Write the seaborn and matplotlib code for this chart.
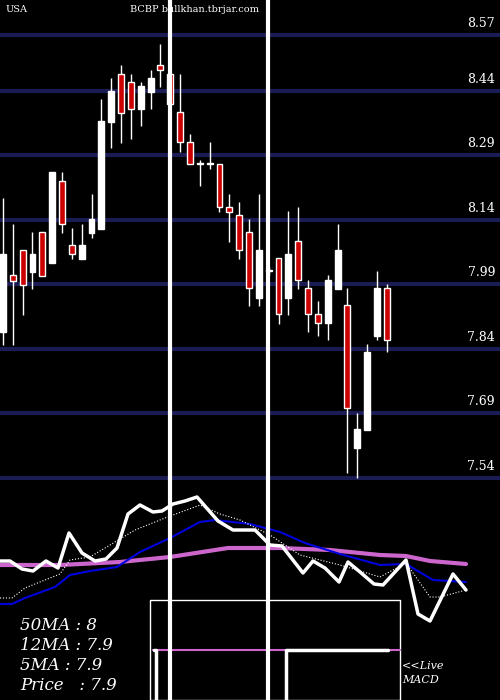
import matplotlib
matplotlib.use("Agg")
import matplotlib.pyplot as plt
import seaborn as sns
import numpy as np

sns.set_theme(style="dark")
plt.rcParams['font.family'] = ['DejaVu Serif']

opens  = [7.879,8.012,8.070,8.019,8.112,8.040,8.230,8.082,8.049,8.110,8.119,8.368,8.479,8.461,8.398,8.437,8.500,8.479,8.391,8.321,8.271,8.271,8.270,8.170,8.151,8.112,7.958,8.022,8.051,7.958,8.091,7.982,7.921,7.900,7.979,7.942,7.610,7.651,7.870,7.982]
highs  = [8.191,8.130,8.070,8.112,8.112,8.251,8.251,8.121,8.130,8.200,8.421,8.470,8.500,8.479,8.461,8.489,8.549,8.570,8.479,8.340,8.279,8.321,8.270,8.200,8.182,8.142,8.200,8.030,8.051,8.161,8.170,8.000,7.951,8.012,8.130,7.982,7.691,7.851,8.021,7.991]
lows   = [7.849,7.849,7.919,7.979,8.010,8.040,8.110,8.049,8.049,8.098,8.119,8.307,8.319,8.328,8.358,8.398,8.449,8.372,8.298,8.270,8.219,8.258,8.158,8.089,8.049,7.940,7.940,8.012,7.898,7.919,7.979,7.879,7.870,7.861,7.979,7.551,7.540,7.651,7.861,7.833]
closes = [8.061,7.998,7.989,8.061,8.010,8.251,8.130,8.061,8.082,8.142,8.370,8.440,8.389,8.398,8.451,8.470,8.489,8.409,8.321,8.270,8.269,8.269,8.170,8.158,8.070,7.982,8.070,8.020,7.921,8.061,8.000,7.921,7.900,8.000,8.070,7.703,7.654,7.833,7.982,7.861]
price_ticks = [8.57,8.44,8.29,8.14,7.99,7.84,7.69,7.54]

# lower indicator panel (panel units)
px_x = [0,10,22,33,46,58,69,82,95,106,117,128,140,153,162,173,185,197,218,233,255,270,282,303,313,325,339,348,360,374,383,406,418,430,453,466]
px_y = [561,561,569,571,561,568,533,553,561,559,548,514,505,512,511,504,501,497,521,530,530,545,546,573,561,568,582,562,572,584,585,560,614,621,574,590]
ma5_x = [0,12,25,60,70,90,135,165,200,220,240,270,300,340,380,406,430,440,466]
ma5_y = [598,598,588,574,560,557,530,518,505,514,520,535,555,565,577,563,597,597,590]
ma12_x = [0,12,25,55,70,90,117,140,170,200,215,250,280,305,340,380,406,433,466]
ma12_y = [604,604,598,587,575,571,567,552,538,522,520,524,532,543,554,565,564,580,582]
ma50_x = [0,60,120,170,228,280,330,380,406,430,466]
ma50_y = [565,565,562,557,548,548,550,555,556,561,564]
labels = ["50MA : 8", "12MA : 7.9", "5MA : 7.9", "Price   : 7.9"]

fig = plt.figure(figsize=(5, 7), dpi=100, facecolor="black")
# top of image at 8.651, bottom at 7.023
ax = fig.add_axes([0, 0, 1, 1])
ax.set_facecolor("black")
ax.set_xlim(-0.3, 50.5)
ax.set_ylim(7.023, 8.651)
ax.axis("off")
for t in price_ticks:
    ax.axhline(t, color="#1c1c55", lw=3, zorder=1)
    ax.text(48.6, t + 0.012, f"{t:.2f}", color="white", fontsize=9, ha="center", va="bottom")
for i, (o, h, l, c) in enumerate(zip(opens, highs, lows, closes)):
    up = c >= o
    ax.vlines(i, l, h, color="white", lw=1, zorder=2)
    fc = "white" if up else "#cc0000"
    lo, hi = min(o, c), max(o, c)
    ax.bar(i, max(hi - lo, 0.002), bottom=lo, width=0.6, color=fc, edgecolor="white", lw=1, zorder=3)
ax.text(0.3, 8.63, "USA", color="white", fontsize=7, va="center")
ax.text(12.9, 8.63, "BCBP bullkhan.tbrjar.com", color="white", fontsize=7, va="center")

# panel axes in pixel coordinates
bx = fig.add_axes([0, 0, 1, 1])
bx.patch.set_alpha(0)
bx.set_xlim(0, 500)
bx.set_ylim(700, 0)
bx.axis("off")
bx.plot(ma50_x, ma50_y, color="#cc66cc", lw=3)
bx.plot(ma12_x, ma12_y, color="#0000dd", lw=1.5)
bx.plot(ma5_x, ma5_y, color="white", lw=0.8, ls=":")
bx.plot(px_x, px_y, color="white", lw=2.5)
bx.plot([150, 400, 400, 150, 150], [700, 700, 600, 600, 700], color="white", lw=1)
bx.plot([153, 400], [650, 650], color="#cc66cc", lw=1.5)
bx.plot([154, 156, 156], [650, 650, 700], color="white", lw=2.5)
bx.plot([286, 286, 388], [700, 650, 650], color="white", lw=2.5)
bx.axvline(170, color="white", lw=3)
bx.axvline(268, color="white", lw=3)
for k, s in enumerate(labels):
    bx.text(20, 625 + k * 20, s, color="white", fontsize=12, style="italic", va="center")
bx.text(402, 666, "<<Live", color="white", fontsize=8, style="italic", va="center")
bx.text(402, 680, "MACD", color="white", fontsize=8, style="italic", va="center")

fig.savefig("out.png", dpi=100, facecolor="black")
